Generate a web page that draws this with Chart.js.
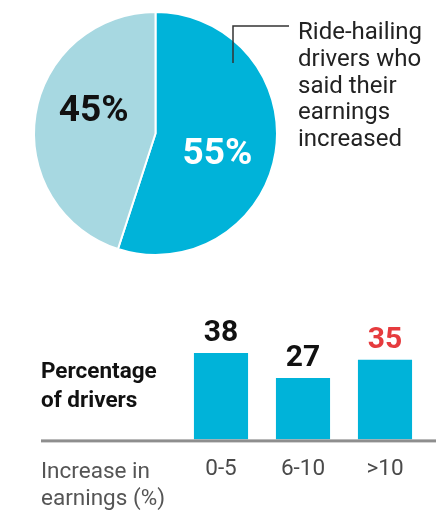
<!DOCTYPE html>
<html>
<head>
<meta charset="utf-8">
<script src="https://cdn.jsdelivr.net/npm/chart.js@4/dist/chart.umd.min.js"></script>
<style>
html, body { margin: 0; padding: 0; background: #fff; width: 436px; height: 513px; overflow: hidden; font-family: Roboto, "Liberation Sans", sans-serif; }
canvas { position: absolute; left: 0; }
#pieChart { top: 0; }
#barChart { top: 300px; }
.note { position: absolute; white-space: nowrap; }
#callout { left: 298px; top: 18px; font-size: 24px; line-height: 26.8px; color: #222; }
#barTitle { left: 41px; top: 356px; font-size: 22.5px; line-height: 29px; font-weight: bold; color: #111; }
#axisTitle { left: 41px; top: 457px; font-size: 22.5px; line-height: 27px; color: #555; }
</style>
</head>
<body>
<canvas id="pieChart" width="436" height="270"></canvas>
<canvas id="barChart" width="436" height="213"></canvas>
<div class="note" id="callout">Ride-hailing<br>drivers who<br>said their<br>earnings<br>increased</div>
<div class="note" id="barTitle">Percentage<br>of drivers</div>
<div class="note" id="axisTitle">Increase in<br>earnings (%)</div>
<script>
// pie: share of drivers who said earnings increased
const pieLabels = ['Increased', 'Did not increase'];
const pieValues = [55, 45];
const pieColors = ['#00b3d9', '#a7d8e1'];
const pieTextColors = ['#ffffff', '#111111'];

// bars: increase in earnings
const barLabels = ['0-5', '6-10', '>10'];
const barValues = [38, 27, 35];
const barTextColors = ['#111111', '#111111', '#e63b3e'];

const pieText = {
    id: 'pieText',
    afterDatasetsDraw(chart) {
        const ctx = chart.ctx
        ctx.save()
        chart.getDatasetMeta(0).data.forEach((arc, i) => {
            const mid = (arc.startAngle + arc.endAngle) / 2 + 0.18
            const r = arc.outerRadius * 0.54
            ctx.font = 'bold 37px Roboto'
            ctx.fillStyle = pieTextColors[i]
            ctx.textAlign = 'center'
            ctx.textBaseline = 'middle'
            ctx.fillText(pieValues[i] + '%', arc.x + Math.cos(mid) * r, arc.y + Math.sin(mid) * r)
        })
        // leader line to the note
        ctx.strokeStyle = '#333'
        ctx.lineWidth = 1.5
        ctx.beginPath()
        ctx.moveTo(233, 63)
        ctx.lineTo(233, 26)
        ctx.lineTo(289, 26)
        ctx.stroke()
        ctx.restore()
    }
};

new Chart(document.getElementById('pieChart'), {
    type: 'pie',
    data: {
        labels: pieLabels,
        datasets: [{
            data: pieValues,
            backgroundColor: pieColors,
            borderColor: '#fff',
            borderWidth: 2
        }]
    },
    options: {
        responsive: false,
        animation: false,
        layout: { padding: { left: 33, right: 158, top: 11, bottom: 14 } },
        plugins: { legend: { display: false }, tooltip: { enabled: false } }
    },
    plugins: [pieText]
});

const barText = {
    id: 'barText',
    afterDatasetsDraw(chart) {
        const ctx = chart.ctx
        const area = chart.chartArea
        ctx.save()
        ctx.fillStyle = '#8e8e8e'
        ctx.fillRect(41, area.bottom, 436 - 41, 3)
        chart.getDatasetMeta(0).data.forEach((bar, i) => {
            ctx.font = 'bold 30px Roboto'
            ctx.fillStyle = barTextColors[i]
            ctx.textAlign = 'center'
            ctx.textBaseline = 'alphabetic'
            ctx.fillText(barValues[i], bar.x, bar.y - 12)
        })
        ctx.restore()
    }
};

new Chart(document.getElementById('barChart'), {
    type: 'bar',
    data: {
        labels: barLabels,
        datasets: [{
            data: barValues,
            backgroundColor: '#00b3d9',
            categoryPercentage: 1,
            barPercentage: 0.66
        }]
    },
    options: {
        responsive: false,
        animation: false,
        layout: { padding: { left: 180, right: 10, top: 21, bottom: 14.6 } },
        scales: {
            x: {
                grid: { display: false, drawTicks: false },
                border: { display: false },
                ticks: { color: '#4a4a4a', padding: 16, font: { family: 'Roboto', size: 22.5 } }
            },
            y: { display: false, min: 0, max: 52 }
        },
        plugins: { legend: { display: false }, tooltip: { enabled: false } }
    },
    plugins: [barText]
});
</script>
</body>
</html>
